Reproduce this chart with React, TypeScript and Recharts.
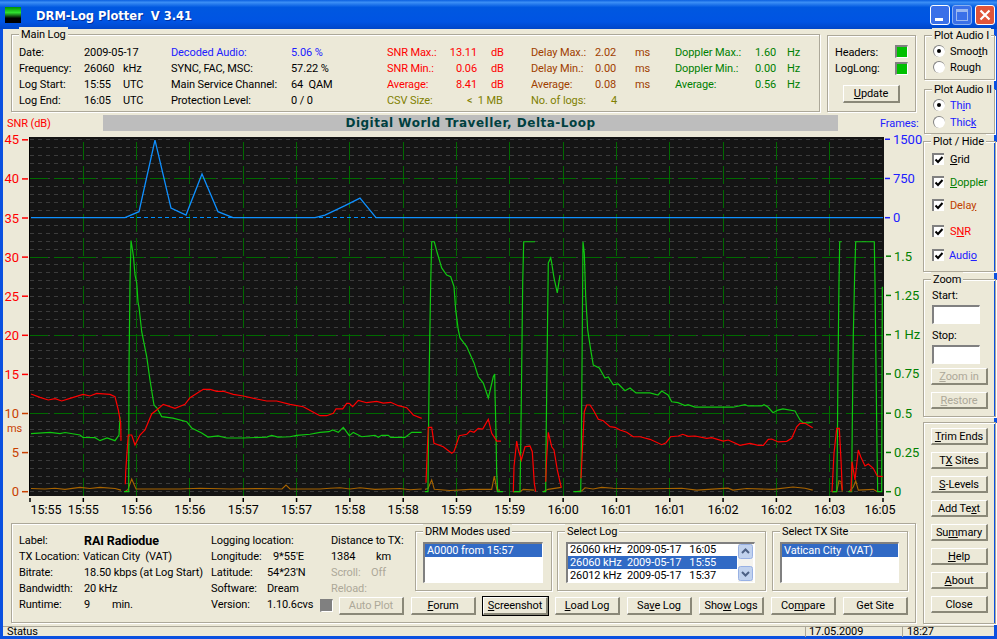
import React from 'react';
import { ComposedChart, Line, XAxis, YAxis, ReferenceLine } from 'recharts';

type Pt = [number, number];

// x is the log position (0..853 across the plot), y is in the unit of each series
const timeLabels = ['15:55', '15:55', '15:56', '15:56', '15:57', '15:57', '15:58', '15:58', '15:59', '15:59', '16:00', '16:01', '16:01', '16:02', '16:02', '16:03', '16:05'];
const snrTicks = [0, 5, 10, 15, 20, 25, 30, 35, 40, 45];
const dopplerTicks = [0, 0.25, 0.5, 0.75, 1, 1.25, 1.5];
const frameTicks = [0, 750, 1500];

const framesSegments: Pt[][] = [[
  [1, 0], [95, 0], [109, 115], [125, 1485], [141, 185], [156, 50], [172, 835], [188, 115], [203, 0], [285, 0],
  [295, 50], [315, 230], [330, 375], [346, 0], [853, 0],
]];

const snrSegments: Pt[][] = [
  [[1, 12.49], [10, 12.07], [18.3, 11.73], [25, 11.89], [31.7, 11.6], [40, 11.94], [53, 12.45], [60, 12.24], [66.7, 12.58], [80, 12.45], [85, 12.15], [88.3, 10.45], [90.7, 8.75], [91, 6.5]],
  [[95.3, 0.95], [95.7, 2.56], [96.7, 4.48], [98.3, 7.25], [101.7, 7.25], [105, 5.97], [110, 7.25], [115, 7.89], [121.7, 9.94], [126.7, 10.45], [133.3, 11.17], [145, 10.66], [155, 11.17], [160, 12.02], [173.3, 13.09], [180, 13.09], [186.7, 12.84], [193.3, 12.84], [203.3, 12.45], [213.3, 12.24], [226.7, 11.85], [236.7, 11.6], [246.7, 11.6], [260, 11.17], [273.3, 10.87], [286.7, 9.94], [290, 9.72], [296.7, 9.72], [303.3, 10.02], [306, 10.58], [312.7, 10.58], [316.7, 11.3], [319.3, 11.3], [322.7, 10.87], [328.3, 11.68], [336.7, 11.38], [346.7, 11.56], [353.3, 11.34], [360.7, 11.43], [368.3, 11.0], [376.7, 10.74], [383.3, 9.81], [391.7, 9.38]],
  [[396, 1.15], [397.3, 5.33], [398.3, 8.23], [401.7, 8.23], [404, 6.19], [413.3, 5.75], [421.7, 4.91], [424, 5.12], [429.3, 7.16], [436.7, 7.34], [440, 7.76], [444, 7.6], [448.3, 8.1], [452.7, 8.02], [458.3, 9.26], [461.7, 7.47], [466.7, 6.48], [471, 6.48]],
  [[483.3, 0], [484, 3.2], [486.7, 6.48], [488, 5.55], [491.3, 4.05], [495, 5.75], [500, 5.84], [502.3, 5.12], [504.3, 1.07], [505.7, 0]],
  [[515.7, 1.28], [516.7, 4.48], [518.3, 7.6], [521.7, 5.75], [524, 5.33], [527.3, 2.78], [531.3, 0.51]],
  [[551, 1.71], [552.3, 5.12], [554.3, 10.23], [556.7, 11.09], [560, 11.09], [563.3, 10.45], [568.3, 9.26], [573.3, 9.08], [580, 8.31], [585, 8.23], [590, 7.89], [596.7, 7.6], [603.3, 7.03], [610, 7.03], [620, 6.7], [631.7, 6.01], [636, 6.27], [640.7, 7.03], [648.3, 7.12], [652.7, 7.34], [658.3, 7.08], [665, 7.12], [676.7, 6.83], [681.7, 6.91], [693.3, 6.48], [698.3, 6.61], [710, 5.93], [720, 6.19], [728.3, 5.93], [733.3, 5.93], [738.3, 6.7], [741.7, 6.74], [748.3, 6.36], [756.7, 6.44], [761.7, 6.83], [766.7, 8.31], [770, 8.75], [775, 8.75], [782.7, 8.18]],
  [[802, 0], [804, 4.91], [806.7, 8.1], [809.3, 8.1], [811, 4.05], [812.3, 0.2]],
  [[821, 0], [822, 3.84], [825, 1.5], [828.3, 5.33], [830.7, 4.48], [835, 3.29], [838.3, 3.54], [843.3, 2.99], [847.3, 2.0], [852.7, 1.92]],
];

const dopplerSegments: Pt[][] = [
  [[1, 0.37], [20, 0.378], [30, 0.37], [35, 0.377], [50, 0.361], [53, 0.345], [65, 0.344], [70, 0.325], [77, 0.342], [85, 0.325], [89, 0.361], [90, 0.478]],
  [[94, 0], [98.7, 0], [99, 0.796], [100, 1.33], [101, 1.6], [102, 1.56], [103.5, 1.495], [105, 1.38], [106.7, 1.33], [108, 1.208], [109, 1.176], [111.7, 1.019], [116.7, 0.86], [120, 0.711], [124, 0.552], [127, 0.533], [131.7, 0.478], [143, 0.469], [156.7, 0.446], [161.7, 0.406], [171.7, 0.374], [178, 0.348], [188, 0.355], [196.7, 0.342], [213, 0.342], [236.7, 0.348], [241.7, 0.359], [248, 0.348], [260, 0.35], [266.7, 0.359], [280, 0.366], [290, 0.378], [299, 0.382], [302.7, 0.393], [308.3, 0.378], [313.3, 0.41], [319.3, 0.357], [323.3, 0.378], [331.7, 0.35], [345, 0.359], [348.3, 0.346], [351.7, 0.359], [358.3, 0.359], [360.7, 0.346], [375, 0.346], [381.7, 0.378], [391.7, 0.378]],
  [[395, 0], [398, 0], [398.3, 0.266], [399.3, 0.796], [400.7, 1.331], [401.7, 1.592], [404.3, 1.592], [407.3, 1.52], [411.7, 1.425], [416.7, 1.38], [420.7, 1.369], [424, 1.306], [425.7, 1.157], [428.3, 1.03], [430, 0.979], [436.7, 0.924], [444, 0.82], [448.3, 0.732], [453.3, 0.692], [458.3, 0.597], [463.3, 0.732], [464.7, 0.75], [465, 0.629], [466, 0.374], [466.7, 0.119], [467.7, 0], [473, 0]],
  [[483.3, 0], [490, 0], [490.7, 0.266], [491.7, 0.796], [492.7, 1.331], [493.7, 1.592], [505, 1.592]],
  [[512.7, 0], [515.7, 0], [516, 0.266], [517, 0.796], [518.3, 1.457], [520.7, 1.489], [521.7, 1.457], [524, 1.361], [527.3, 1.266], [530, 1.38]],
  [[543.3, 0], [550.7, 0], [551.3, 0.266], [552, 0.796], [553, 1.592], [554.3, 1.52], [555.7, 1.242], [557.7, 1.03], [560.7, 0.903], [563.3, 0.807], [569.3, 0.788], [575, 0.724], [578.3, 0.731], [583.3, 0.68], [588.3, 0.686], [595, 0.643], [600, 0.66], [606, 0.629], [620, 0.629], [628, 0.616], [631.7, 0.641], [638, 0.616], [641.7, 0.573], [648, 0.567], [655, 0.548], [658, 0.554], [665, 0.539], [680, 0.539], [693, 0.538], [703, 0.538], [715, 0.554], [718, 0.546], [731.7, 0.546], [734, 0.554], [738, 0.539], [743, 0.503], [748, 0.52], [753, 0.527], [765, 0.514], [770, 0.457], [773, 0.44], [778, 0.438], [782.7, 0.444]],
  [[802.3, 0], [806.7, 0], [807.3, 0.266], [808, 0.796], [809, 1.331], [809.7, 1.592], [811.7, 1.592]],
  [[818.3, 0], [821.7, 0], [822, 0.255], [823.3, 0.998], [824.7, 1.393], [825.7, 1.592], [844.3, 1.592], [845, 1.331], [846, 0.796], [847, 0.266], [847.7, 0], [851.7, 0], [852.3, 1.306]],
];

const delaySegments: Pt[][] = [
  [[1, 0.4], [15, 0.35], [25, 0.45], [35, 0.3], [50, 0.55], [60, 0.4], [70, 0.55], [85, 0.4], [91, 0.2]],
  [[95, 0], [98, 0.3], [101.7, 1.62], [106, 0.36], [150, 0.35], [170, 0.45], [200, 0.35], [230, 0.4], [252, 0.35], [256, 0.85], [260, 0.35], [290, 0.35], [300, 0.45], [310, 0.5], [320, 0.35], [330, 0.5], [345, 0.3], [370, 0.4], [380, 0.25], [391.7, 0.35]],
  [[395, 0.3], [398, 0.4], [401.7, 1.5], [404.3, 0.3], [420, 0.15], [440, 0.3], [461.7, 0.3], [464.3, 2.0], [467, 0.2], [470, 0.2]],
  [[483, 0], [490, 0], [493.3, 0.3], [504.3, 0.2]],
  [[513, 0], [518, 0.3], [531.3, 0.55]],
  [[545, 0], [551.7, 0.1], [555, 0.5], [563, 0.35], [571.7, 0.55], [583, 0.45], [610, 0.35], [651.7, 0.45], [666.7, 0.2], [698, 0.45], [703, 0.2], [716.7, 0.4], [743, 0.3], [763, 0.6], [775, 0.45], [782.7, 0.2]],
  [[802, 0], [806.7, 0], [809, 1.4], [811, 1.3], [812.3, 0]],
  [[819, 0], [823.3, 0.6], [825.7, 1.4], [828.3, 0.2], [843.3, 0.3], [847.3, 0]],
];

const PLOT_W = 853;
const xTicks = timeLabels.map((_, i) => (i * PLOT_W) / (timeLabels.length - 1));
const fineGrid = Array.from({ length: 46 }, (_, i) => i).filter((v) => v !== 35);
const mainGrid = [10, 20, 30, 40];

const FONT = 'Roboto, Tahoma, sans-serif';
const BOLD_FONT = '"DejaVu Sans", sans-serif';
const UI = { fontSize: 11, letterSpacing: -0.1, fontFamily: FONT };

const rowsOf = (segments: Pt[][]) => {
  const rows: { t: number; v: number | null }[] = [];
  segments.forEach((seg) => {
    seg.forEach(([t, v]) => rows.push({ t, v }));
    rows.push({ t: seg[seg.length - 1][0] + 0.01, v: null });
  });
  return rows;
};

const T = ({ x, y, c = '#000', b, s = 11, children, w, right, center }: any) => (
  <div
    style={{
      ...UI, position: 'absolute', left: x, top: y - 8, height: 18, lineHeight: '18px', color: c,
      fontWeight: b ? 700 : 400, fontSize: s, whiteSpace: 'nowrap',
      width: w, textAlign: right ? 'right' : center ? 'center' : 'left',
    }}
  >
    {children}
  </div>
);

const Box = ({ x, y, w, h, title }: any) => (
  <div style={{ position: 'absolute', left: x, top: y, width: w, height: h, border: '1px solid #aca899', boxShadow: '1px 1px 0 #fff, inset 1px 1px 0 #fff' }}>
    {title && (
      <div style={{ ...UI, position: 'absolute', left: 7, top: -8, height: 15, lineHeight: '15px', padding: '0 2px', background: '#ece9d8', whiteSpace: 'nowrap' }}>
        {title}
      </div>
    )}
  </div>
);

const Btn = ({ x, y, w = 57, h = 17, off, focus, children }: any) => (
  <div
    style={{
      ...UI, position: 'absolute', left: x, top: y, width: w, height: h, lineHeight: `${h - 2}px`, textAlign: 'center', boxSizing: 'border-box',
      background: '#ece9d8', color: off ? '#aca899' : '#000',
      borderTop: '1px solid #fff', borderLeft: '1px solid #fff',
      borderRight: '2px solid #8a8878', borderBottom: '2px solid #8a8878',
      outline: focus ? '1px solid #000' : undefined,
    }}
  >
    {children}
  </div>
);

const Radio = ({ x, y, on }: any) => (
  <div style={{ position: 'absolute', left: x, top: y - 6, width: 12, height: 12, borderRadius: 6, background: '#fff', boxSizing: 'border-box', borderTop: '1px solid #808080', borderLeft: '1px solid #808080' }}>
    {on && <div style={{ position: 'absolute', left: 3, top: 3, width: 4, height: 4, borderRadius: 2, background: '#000' }} />}
  </div>
);

const Check = ({ x, y }: any) => (
  <div style={{ position: 'absolute', left: x, top: y - 6, width: 12, height: 12, background: '#fff', boxSizing: 'border-box', borderTop: '2px solid #808080', borderLeft: '2px solid #808080' }}>
    <svg width={10} height={10} style={{ position: 'absolute', left: 0, top: 0 }}>
      <polyline points="1.5,4.5 4,7 8.5,2" fill="none" stroke="#000" strokeWidth={2} />
    </svg>
  </div>
);

const Sunk = ({ x, y, w, h, bg = '#fff' }: any) => (
  <div style={{ position: 'absolute', left: x, top: y, width: w, height: h, boxSizing: 'border-box', background: bg, borderTop: '2px solid #808080', borderLeft: '2px solid #808080', borderRight: '1px solid #fff', borderBottom: '1px solid #fff' }} />
);

const Sel = ({ x, y, w, children, off }: any) => (
  <div style={{ ...UI, position: 'absolute', left: x, top: y, width: w, height: 13, lineHeight: '13px', background: off ? 'transparent' : '#316ac5', color: off ? '#000' : '#fff', paddingLeft: 2, boxSizing: 'border-box', whiteSpace: 'nowrap' }}>
    {children}
  </div>
);

const ScrollBtn = ({ y, up }: any) => (
  <svg width={15} height={15} style={{ position: 'absolute', left: 738, top: y }}>
    <rect x={0.5} y={0.5} width={14} height={14} rx={2} fill="#c1d2ee" stroke="#98b1e4" />
    <polyline points={up ? '4,9 7.5,5.5 11,9' : '4,6 7.5,9.5 11,6'} fill="none" stroke="#4d6185" strokeWidth={2} />
  </svg>
);

const leftTick = ({ x, y, payload }: any) => {
  const color = payload.value <= 10 ? '#c84000' : '#ff0000';
  return (
    <g>
      <line x1={x - 6} x2={x} y1={y} y2={y} stroke={color} strokeWidth={1.5} />
      <text x={x - 9} y={y + 4.5} textAnchor="end" fill={color} fontSize={13} fontFamily={FONT}>{payload.value}</text>
    </g>
  );
};

const rightTick = (color: string, fmt: (v: number) => string) => ({ x, y, payload }: any) => (
  <g>
    <line x1={x} x2={x + 5} y1={y} y2={y} stroke={color} strokeWidth={1.5} />
    <text x={x + 8} y={y + 4.5} textAnchor="start" fill={color} fontSize={13} fontFamily={FONT}>{fmt(payload.value)}</text>
  </g>
);

const bottomTick = ({ x, y, payload, index }: any) => {
  const shift = index === 0 ? 16 : index === timeLabels.length - 1 ? -3 : 0;
  return (
    <g>
      <line x1={x} x2={x} y1={y} y2={y + 4} stroke="#000" strokeWidth={1.5} />
      <text x={x + shift} y={y + 16} textAnchor="middle" fill="#000" fontSize={12.5} fontFamily={FONT}>{timeLabels[index]}</text>
    </g>
  );
};

const Plot = () => (
  <div style={{ position: 'absolute', left: 0, top: 0 }}>
    <ComposedChart width={997} height={639} margin={{ top: 137, right: 0, bottom: 113, left: 0 }}>
      <XAxis xAxisId="x" dataKey="t" type="number" domain={[0, PLOT_W]} ticks={xTicks} interval={0} height={30} axisLine={false} tickLine={false} tickSize={0} tick={bottomTick} allowDataOverflow />
      <YAxis yAxisId="snr" type="number" orientation="left" width={30} domain={[-0.55, 45.36]} ticks={snrTicks} interval={0} axisLine={false} tickLine={false} tickSize={0} tick={leftTick} allowDataOverflow />
      <YAxis yAxisId="audio" type="number" orientation="right" width={1} domain={[-5321, 1543]} ticks={frameTicks} interval={0} axisLine={false} tickLine={false} tickSize={0} tick={rightTick('#2020ff', (v) => String(v))} allowDataOverflow />
      <YAxis yAxisId="doppler" type="number" orientation="right" width={113} domain={[-0.0274, 2.259]} ticks={dopplerTicks} interval={0} axisLine={false} tickLine={false} tickSize={0} tick={rightTick('#008000', (v) => (v === 1 ? '1 Hz' : String(v)))} allowDataOverflow />

      {fineGrid.map((v) => (
        <ReferenceLine key={`f${v}`} xAxisId="x" yAxisId="snr" y={v} stroke="#3c3c3c" strokeDasharray="4 4" shapeRendering="crispEdges" />
      ))}
      {mainGrid.map((v) => (
        <ReferenceLine key={`m${v}`} xAxisId="x" yAxisId="snr" y={v} stroke="#006a00" strokeDasharray="18 6" shapeRendering="crispEdges" />
      ))}
      {xTicks.slice(1, -1).map((v) => (
        <ReferenceLine key={`v${v}`} xAxisId="x" yAxisId="snr" x={v} stroke="#006a00" strokeDasharray="18 6" shapeRendering="crispEdges" />
      ))}
      <ReferenceLine xAxisId="x" yAxisId="audio" y={0} stroke="#0090ff" strokeDasharray="4 3" shapeRendering="crispEdges" />

      <Line xAxisId="x" yAxisId="audio" data={rowsOf(framesSegments)} dataKey="v" type="linear" stroke="#0f90ff" strokeWidth={1.3} dot={false} isAnimationActive={false} />
      <Line xAxisId="x" yAxisId="snr" data={rowsOf(delaySegments)} dataKey="v" type="linear" stroke="#a86400" strokeWidth={1.1} dot={false} isAnimationActive={false} />
      <Line xAxisId="x" yAxisId="doppler" data={rowsOf(dopplerSegments)} dataKey="v" type="linear" stroke="#10c810" strokeWidth={1.2} dot={false} isAnimationActive={false} />
      <Line xAxisId="x" yAxisId="snr" data={rowsOf(snrSegments)} dataKey="v" type="linear" stroke="#ff0000" strokeWidth={1.2} dot={false} isAnimationActive={false} />
    </ComposedChart>
  </div>
);

const MainLog = () => (
  <>
    <Box x={11} y={34} w={807} h={76} title="Main Log" />
    <T x={19} y={52}>Date:</T><T x={84} y={52}>2009-05-17</T>
    <T x={19} y={68}>Frequency:</T><T x={84} y={68}>26060</T><T x={123} y={68}>kHz</T>
    <T x={19} y={84}>Log Start:</T><T x={84} y={84}>15:55</T><T x={123} y={84}>UTC</T>
    <T x={19} y={100}>Log End:</T><T x={84} y={100}>16:05</T><T x={123} y={100}>UTC</T>

    <T x={171} y={52} c="#2020ff">Decoded Audio:</T><T x={291} y={52} c="#2020ff">5.06 %</T>
    <T x={171} y={68}>SYNC, FAC, MSC:</T><T x={291} y={68}>57.22 %</T>
    <T x={171} y={84}>Main Service Channel:</T><T x={291} y={84}>64&nbsp;&nbsp;QAM</T>
    <T x={171} y={100}>Protection Level:</T><T x={291} y={100}>0 / 0</T>

    <T x={387} y={52} c="#f00">SNR Max.:</T><T x={430} y={52} w={47} right c="#f00">13.11</T><T x={491} y={52} c="#f00">dB</T>
    <T x={387} y={68} c="#f00">SNR Min.:</T><T x={430} y={68} w={47} right c="#f00">0.06</T><T x={491} y={68} c="#f00">dB</T>
    <T x={387} y={84} c="#f00">Average:</T><T x={430} y={84} w={47} right c="#f00">8.41</T><T x={491} y={84} c="#f00">dB</T>
    <T x={387} y={100} c="#808000">CSV Size:</T><T x={467} y={100} c="#808000">&lt;&nbsp;&nbsp;1 MB</T>

    <T x={531} y={52} c="#a04000">Delay Max.:</T><T x={595} y={52} c="#a04000">2.02</T><T x={635} y={52} c="#a04000">ms</T>
    <T x={531} y={68} c="#a04000">Delay Min.:</T><T x={595} y={68} c="#a04000">0.00</T><T x={635} y={68} c="#a04000">ms</T>
    <T x={531} y={84} c="#a04000">Average:</T><T x={595} y={84} c="#a04000">0.08</T><T x={635} y={84} c="#a04000">ms</T>
    <T x={531} y={100} c="#808000">No. of logs:</T><T x={590} y={100} w={27} right c="#808000">4</T>

    <T x={675} y={52} c="#008000">Doppler Max.:</T><T x={755} y={52} c="#008000">1.60</T><T x={787} y={52} c="#008000">Hz</T>
    <T x={675} y={68} c="#008000">Doppler Min.:</T><T x={755} y={68} c="#008000">0.00</T><T x={787} y={68} c="#008000">Hz</T>
    <T x={675} y={84} c="#008000">Average:</T><T x={755} y={84} c="#008000">0.56</T><T x={787} y={84} c="#008000">Hz</T>

    <Box x={827} y={35} w={87} h={75} />
    <T x={835} y={52}>Headers:</T><T x={835} y={68}>LogLong:</T>
    <Sunk x={895} y={45} w={13} h={13} bg="#00c000" /><Sunk x={895} y={62} w={13} h={13} bg="#00c000" />
    <Btn x={843} y={85} w={57} h={18}><u>U</u>pdate</Btn>
  </>
);

const SidePanel = () => (
  <>
    <Box x={924} y={35} w={69} h={43} title="Plot Audio I" />
    <Radio x={933} y={51} on /><T x={950} y={51}>Smoo<u>t</u>h</T>
    <Radio x={933} y={67} /><T x={950} y={67}>Rou<u>g</u>h</T>
    <Box x={924} y={89} w={69} h={43} title="Plot Audio II" />
    <Radio x={933} y={105} on /><T x={950} y={105} c="#2020ff">Th<u>i</u>n</T>
    <Radio x={933} y={122} /><T x={950} y={122} c="#2020ff">Thic<u>k</u></T>

    <Box x={923} y={141} w={71} h={129} title="Plot / Hide" />
    <Check x={932} y={159} /><T x={950} y={159}><u>G</u>rid</T>
    <Check x={932} y={182} /><T x={950} y={182} c="#008000"><u>D</u>oppler</T>
    <Check x={932} y={205} /><T x={950} y={205} c="#c04000">Dela<u>y</u></T>
    <Check x={932} y={231} /><T x={950} y={231} c="#f00">S<u>N</u>R</T>
    <Check x={932} y={255} /><T x={949} y={255} c="#2020ff">Audi<u>o</u></T>

    <Box x={923} y={279} w={71} h={136} title="Zoom" />
    <T x={932} y={295}>Start:</T><Sunk x={932} y={305} w={48} h={19} />
    <T x={932} y={335}>Stop:</T><Sunk x={932} y={345} w={48} h={19} />
    <Btn x={931} y={368} off><u>Z</u>oom in</Btn>
    <Btn x={931} y={392} off><u>R</u>estore</Btn>

    <Box x={923} y={422} w={71} h={200} />
    <Btn x={931} y={428}><u>T</u>rim Ends</Btn>
    <Btn x={931} y={452}>T<u>X</u> Sites</Btn>
    <Btn x={931} y={476}><u>S</u>-Levels</Btn>
    <Btn x={931} y={500}>Add Te<u>x</u>t</Btn>
    <Btn x={931} y={524}>Su<u>m</u>mary</Btn>
    <Btn x={931} y={548}><u>H</u>elp</Btn>
    <Btn x={931} y={572}><u>A</u>bout</Btn>
    <Btn x={931} y={596}>Close</Btn>
  </>
);

const BottomPanel = () => (
  <>
    <Box x={11} y={523} w={903} h={98} />
    <T x={19} y={540}>Label:</T><T x={84} y={540} b s={12.5}>RAI Radiodue</T>
    <T x={19} y={556}>TX Location:</T><T x={83} y={556}>Vatican City&nbsp;&nbsp;(VAT)</T>
    <T x={19} y={572}>Bitrate:</T><T x={84} y={572}>18.50 kbps (at Log Start)</T>
    <T x={19} y={588}>Bandwidth:</T><T x={84} y={588}>20 kHz</T>
    <T x={19} y={604}>Runtime:</T><T x={84} y={604}>9</T><T x={112} y={604}>min.</T>

    <T x={211} y={540}>Logging location:</T>
    <T x={211} y={556}>Longitude:</T><T x={273} y={556}>9*55'E</T>
    <T x={211} y={572}>Latitude:</T><T x={267} y={572}>54*23'N</T>
    <T x={211} y={588}>Software:</T><T x={267} y={588}>Dream</T>
    <T x={211} y={604}>Version:</T><T x={267} y={604}>1.10.6cvs</T>
    <Sunk x={320} y={599} w={13} h={13} bg="#808080" />
    <Btn x={339} y={597} w={65} h={18} off>Auto Plot</Btn>

    <T x={331} y={540}>Distance to TX:</T>
    <T x={331} y={556}>1384</T><T x={376} y={556}>km</T>
    <T x={331} y={572} c="#aca899">Scroll:</T><T x={371} y={572} c="#aca899">Off</T>
    <T x={331} y={588} c="#aca899">Reload:</T>

    <Box x={415} y={531} w={135} h={58} title="DRM Modes used" />
    <Sunk x={423} y={542} w={120} h={41} />
    <Sel x={425} y={544} w={117}>A0000 from 15:57</Sel>

    <Box x={557} y={531} w={207} h={58} title="Select Log" />
    <Sunk x={566} y={542} w={189} h={41} />
    <Sel x={568} y={543} w={169} off>26060 kHz&nbsp;&nbsp;2009-05-17&nbsp;&nbsp;&nbsp;16:05</Sel>
    <Sel x={568} y={556} w={169}>26060 kHz&nbsp;&nbsp;2009-05-17&nbsp;&nbsp;&nbsp;15:55</Sel>
    <Sel x={568} y={569} w={169} off>26012 kHz&nbsp;&nbsp;2009-05-17&nbsp;&nbsp;&nbsp;15:37</Sel>
    <div style={{ position: 'absolute', left: 738, top: 544, width: 15, height: 38, background: '#f4f3ee' }} />
    <ScrollBtn y={544} up />
    <ScrollBtn y={566} />

    <Box x={772} y={531} w={134} h={58} title="Select TX Site" />
    <Sunk x={780} y={542} w={119} h={41} />
    <Sel x={782} y={544} w={116}>Vatican City&nbsp;&nbsp;(VAT)</Sel>

    <Btn x={411} y={597} w={65} h={18}><u>F</u>orum</Btn>
    <Btn x={483} y={597} w={65} h={18} focus><u>S</u>creenshot</Btn>
    <Btn x={555} y={597} w={65} h={18}><u>L</u>oad Log</Btn>
    <Btn x={627} y={597} w={65} h={18}>Sa<u>v</u>e Log</Btn>
    <Btn x={699} y={597} w={65} h={18}>Sho<u>w</u> Logs</Btn>
    <Btn x={771} y={597} w={65} h={18}>Co<u>m</u>pare</Btn>
    <Btn x={843} y={597} w={65} h={18}>Get Site</Btn>
  </>
);

const Chrome = () => (
  <>
    <div style={{ position: 'absolute', left: 0, top: 0, width: 997, height: 29, background: 'linear-gradient(#0a5fe0 0%, #3c8ff5 8%, #0058e0 25%, #0054e3 75%, #0046c8 100%)' }} />
    <div style={{ position: 'absolute', left: 5, top: 7, width: 16, height: 16, background: 'linear-gradient(#009000, #30e030 35%, #000 70%)' }} />
    <div style={{ position: 'absolute', left: 36, top: 7, height: 18, lineHeight: '18px', color: '#fff', fontWeight: 700, fontSize: 11.5, fontFamily: BOLD_FONT, whiteSpace: 'nowrap', textShadow: '1px 1px 0 #0030a0' }}>DRM-Log Plotter&nbsp;&nbsp;V 3.41</div>
    <div style={{ position: 'absolute', left: 930, top: 5, width: 20, height: 20, borderRadius: 3, border: '1px solid #fff', boxSizing: 'border-box', background: '#3a70e8' }}>
      <div style={{ position: 'absolute', left: 4, top: 12, width: 8, height: 3, background: '#fff' }} />
    </div>
    <div style={{ position: 'absolute', left: 952, top: 5, width: 20, height: 20, borderRadius: 3, border: '1px solid #8ab0f0', boxSizing: 'border-box', background: '#3a70e8' }}>
      <div style={{ position: 'absolute', left: 3, top: 3, width: 12, height: 12, border: '1px solid #9ab8f0', borderTopWidth: 3, boxSizing: 'border-box' }} />
    </div>
    <div style={{ position: 'absolute', left: 975, top: 5, width: 20, height: 20, borderRadius: 3, border: '1px solid #fff', boxSizing: 'border-box', background: '#e0553a' }}>
      <svg width={18} height={18}>
        <path d="M4.5 4.5 L13.5 13.5 M13.5 4.5 L4.5 13.5" stroke="#fff" strokeWidth={2.2} />
      </svg>
    </div>

    <div style={{ position: 'absolute', left: 0, top: 29, width: 3, height: 610, background: '#0a50e0' }} />
    <div style={{ position: 'absolute', left: 994, top: 29, width: 3, height: 610, background: '#0a50e0' }} />
    <div style={{ position: 'absolute', left: 0, top: 636, width: 997, height: 3, background: '#0a50e0' }} />

    <T x={7} y={123} c="#f00">SNR (dB)</T>
    <T x={7} y={428} c="#c84000">ms</T>
    <div style={{ position: 'absolute', left: 103, top: 115, width: 735, height: 16, background: '#bdbdbd' }} />
    <div style={{ position: 'absolute', left: 103, top: 114, width: 735, height: 18, lineHeight: '18px', textAlign: 'center', fontWeight: 700, fontSize: 12, letterSpacing: 0.5, fontFamily: BOLD_FONT, color: '#004040' }}>Digital World Traveller, Delta-Loop</div>
    <T x={880} y={123} c="#2020ff">Frames:</T>

    <div style={{ position: 'absolute', left: 3, top: 626, width: 991, height: 1, background: '#aca899' }} />
    <T x={7} y={631}>Status</T>
    <div style={{ position: 'absolute', left: 805, top: 627, width: 1, height: 10, background: '#aca899' }} />
    <T x={809} y={631}>17.05.2009</T>
    <div style={{ position: 'absolute', left: 902, top: 627, width: 1, height: 10, background: '#aca899' }} />
    <T x={907} y={631}>18:27</T>
  </>
);

export default function App() {
  return (
    <div style={{ position: 'absolute', left: 0, top: 0, width: 997, height: 639, background: '#ece9d8', overflow: 'hidden' }}>
      <style>{'html,body{margin:0;padding:0;overflow:hidden}'}</style>
      <Chrome />
      <MainLog />
      <SidePanel />
      <BottomPanel />
      <div style={{ position: 'absolute', left: 29, top: 137, width: 855, height: 359, background: '#141414', borderLeft: '1px solid #000', boxSizing: 'border-box' }} />
      <Plot />
    </div>
  );
}
